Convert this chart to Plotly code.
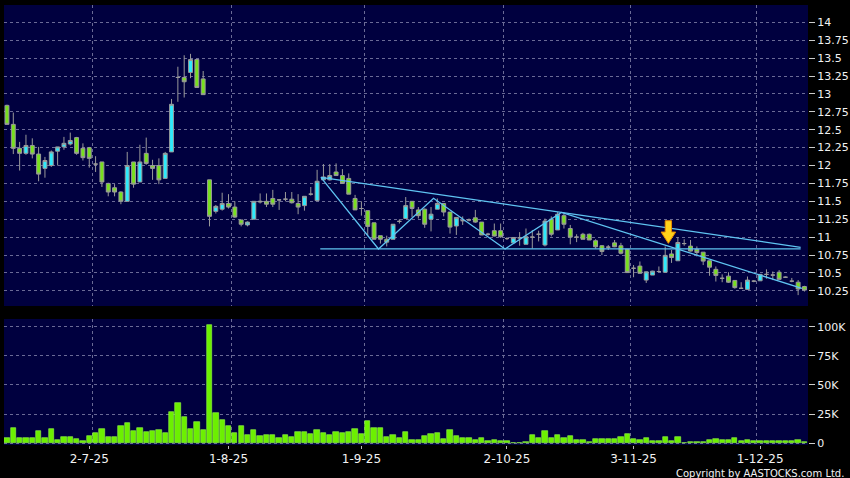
import plotly.graph_objects as go
from plotly.subplots import make_subplots

# ---------------- data ----------------
opens = [12.84, 12.575, 12.24, 12.17, 12.28, 12.16, 11.96, 12.00, 12.20, 12.26,
         12.30, 12.39, 12.24, 12.25, 12.02, 12.05, 11.75, 11.69, 11.63, 11.50,
         12.05, 11.77, 12.17, 12.00, 12.00, 11.82, 12.19, 13.23, 13.23, 13.30,
         13.48, 13.21, 11.80, 11.36, 11.39, 11.47, 11.42, 11.24, 11.17, 11.25,
         11.49, 11.50, 11.54, 11.52, 11.53, 11.53, 11.47, 11.44, 11.60, 11.51,
         11.80, 11.80, 11.91, 11.86, 11.82, 11.54, 11.40, 11.37, 11.20, 11.02,
         10.97, 10.97, 11.22, 11.26, 11.50, 11.38, 11.39, 11.25, 11.39, 11.47,
         11.35, 11.155, 11.23, 11.24, 11.27, 11.21, 11.04, 11.09, 11.09, 10.98,
         10.92, 10.99, 10.90, 11.00, 11.04, 10.89, 11.25, 11.10, 11.30, 11.12,
         11.00, 11.04, 11.04, 10.95, 10.88, 10.86, 10.92, 10.88, 10.83, 10.565,
         10.595, 10.40, 10.47, 10.52, 10.51, 10.765, 10.67, 10.91, 10.875, 10.83,
         10.79, 10.67, 10.55, 10.425, 10.455, 10.395, 10.285, 10.27, 10.385, 10.39,
         10.48, 10.47, 10.51, 10.44, 10.385, 10.37, 10.31]
highs = [12.85, 12.74, 12.33, 12.43, 12.38, 12.26, 12.12, 12.21, 12.26, 12.40,
         12.46, 12.40, 12.31, 12.26, 12.13, 12.05, 11.76, 11.74, 11.64, 12.19,
         12.05, 12.29, 12.39, 12.08, 12.10, 12.19, 12.93, 13.38, 13.54, 13.56,
         13.48, 13.32, 11.80, 11.45, 11.62, 11.60, 11.50, 11.24, 11.22, 11.50,
         11.61, 11.61, 11.66, 11.53, 11.63, 11.63, 11.60, 11.57, 11.70, 11.94,
         12.02, 12.02, 12.03, 11.95, 11.89, 11.59, 11.50, 11.37, 11.20, 11.02,
         11.02, 11.18, 11.25, 11.56, 11.50, 11.42, 11.40, 11.42, 11.54, 11.47,
         11.35, 11.28, 11.29, 11.26, 11.38, 11.21, 11.06, 11.19, 11.19, 11.00,
         11.00, 11.07, 11.12, 11.10, 11.09, 11.26, 11.29, 11.35, 11.33, 11.17,
         11.04, 11.06, 11.05, 10.97, 10.89, 10.89, 10.96, 10.92, 10.83, 10.61,
         10.66, 10.52, 10.53, 10.59, 10.87, 10.82, 11.00, 10.97, 10.96, 10.87,
         10.79, 10.67, 10.59, 10.48, 10.51, 10.40, 10.37, 10.45, 10.40, 10.48,
         10.55, 10.52, 10.54, 10.45, 10.43, 10.40, 10.32]
lows = [12.57, 12.16, 11.93, 12.15, 12.10, 11.78, 11.83, 11.98, 12.00, 12.22,
        12.28, 12.15, 12.07, 11.97, 11.91, 11.70, 11.57, 11.57, 11.46, 11.50,
        11.69, 11.77, 12.01, 11.80, 11.74, 11.82, 12.19, 12.89, 12.95, 13.22,
        13.09, 12.99, 11.15, 11.33, 11.37, 11.40, 11.27, 11.15, 11.15, 11.25,
        11.47, 11.42, 11.42, 11.38, 11.50, 11.47, 11.32, 11.37, 11.58, 11.51,
        11.80, 11.79, 11.86, 11.75, 11.60, 11.38, 11.30, 11.03, 10.97, 10.91,
        10.87, 10.97, 11.19, 11.26, 11.28, 11.26, 11.13, 11.08, 11.39, 11.29,
        11.05, 11.03, 11.17, 11.22, 11.20, 11.03, 11.02, 11.01, 10.99, 10.96,
        10.92, 10.88, 10.90, 10.84, 10.94, 10.87, 11.01, 11.10, 11.12, 10.90,
        10.93, 10.97, 10.96, 10.84, 10.75, 10.82, 10.86, 10.76, 10.50, 10.44,
        10.49, 10.36, 10.47, 10.51, 10.50, 10.64, 10.67, 10.88, 10.80, 10.73,
        10.61, 10.46, 10.38, 10.37, 10.36, 10.28, 10.28, 10.27, 10.37, 10.39,
        10.42, 10.40, 10.41, 10.43, 10.37, 10.19, 10.24]
closes = [12.575, 12.24, 12.17, 12.28, 12.16, 11.88, 12.07, 12.19, 12.26, 12.31,
          12.35, 12.17, 12.11, 12.10, 12.02, 11.77, 11.63, 11.63, 11.50, 12.00,
          11.74, 12.05, 12.03, 11.96, 11.80, 12.17, 12.855, 13.23, 13.17, 13.48,
          13.09, 12.99, 11.29, 11.43, 11.47, 11.42, 11.28, 11.18, 11.21, 11.50,
          11.50, 11.46, 11.46, 11.52, 11.53, 11.48, 11.42, 11.57, 11.60, 11.78,
          11.84, 11.86, 11.86, 11.75, 11.60, 11.38, 11.40, 11.15, 10.97, 10.97,
          10.93, 11.18, 11.22, 11.44, 11.40, 11.30, 11.18, 11.32, 11.47, 11.35,
          11.14, 11.275, 11.23, 11.24, 11.21, 11.03, 11.04, 11.015, 11.005, 10.98,
          10.995, 10.99, 11.005, 11.00, 11.04, 11.225, 11.04, 11.32, 11.18, 11.00,
          11.00, 10.97, 10.96, 10.865, 10.80, 10.86, 10.865, 10.775, 10.505, 10.565,
          10.495, 10.515, 10.525, 10.52, 10.745, 10.715, 10.925, 10.91, 10.805, 10.785,
          10.665, 10.58, 10.465, 10.425, 10.37, 10.295, 10.285, 10.40, 10.385, 10.48,
          10.48, 10.47, 10.41, 10.44, 10.385, 10.275, 10.26]
volumes_k = [4.9, 12.9, 4.6, 4.6, 4.6, 10.3, 4.9, 12.1, 2.9, 5.5,
             5.5, 3.7, 2.3, 6.0, 9.2, 12.1, 5.2, 5.2, 15.2, 17.5,
             10.6, 13.2, 9.8, 10.9, 11.2, 8.6, 27.0, 34.2, 22.4, 12.6,
             18.4, 11.8, 101.7, 25.6, 20.1, 14.9, 8.6, 15.2, 7.5, 11.2,
             6.3, 6.9, 6.9, 4.9, 7.2, 5.7, 9.5, 10.1, 8.3, 11.2,
             8.9, 7.5, 9.5, 9.2, 9.8, 12.1, 8.3, 19.3, 13.5, 13.2,
             5.2, 7.2, 4.6, 10.1, 2.9, 2.9, 6.3, 7.8, 9.2, 3.7,
             11.2, 6.3, 4.6, 4.9, 2.9, 4.6, 2.0, 2.9, 2.3, 2.3,
             0.3, 0.3, 1.4, 6.9, 4.6, 10.3, 4.6, 6.9, 4.9, 6.6,
             2.9, 2.9, 0.9, 3.7, 4.0, 3.4, 3.4, 5.5, 8.3, 3.7,
             3.2, 4.3, 2.3, 2.0, 5.7, 2.3, 5.5, 0.6, 0.9, 0.9,
             0.9, 2.9, 4.0, 3.2, 3.2, 4.9, 2.0, 2.6, 2.0, 1.7,
             1.7, 2.3, 2.0, 1.7, 2.3, 2.9, 1.1]

date_labels = ["2-7-25", "1-8-25", "1-9-25", "2-10-25", "3-11-25", "1-12-25"]
date_index = [13, 35, 56, 79, 99, 119]
grid_index = [13.5, 35.5, 56.5, 78.5, 98.5, 118.5]

price_ticks = [10.25, 10.5, 10.75, 11, 11.25, 11.5, 11.75, 12, 12.25, 12.5,
               12.75, 13, 13.25, 13.5, 13.75, 14]
price_tick_labels = ["10.25", "10.5", "10.75", "11", "11.25", "11.5", "11.75", "12",
                     "12.25", "12.5", "12.75", "13", "13.25", "13.5", "13.75", "14"]
vol_ticks = [0, 25000, 50000, 75000, 100000]
vol_tick_labels = ["0", "25K", "50K", "75K", "100K"]

# drawn trend lines (index, price)
zigzag_x = [49.6, 58.7, 67.4, 78.7, 87.6, 125.6]
zigzag_y = [11.835, 10.835, 11.542, 10.835, 11.346, 10.285]
upper_x = [49.6, 125.4]
upper_y = [11.835, 10.858]
support_x = [49.5, 125.4]
support_y = [10.835, 10.835]

# signal arrow
arrow_index = 104.5
arrow_top = 11.229
arrow_neck = 11.071
arrow_tip = 10.913

# ---------------- styling ----------------
BG = "#000000"
PANEL = "#00003f"
UP = "#2eeafc"
DOWN = "#78e01e"
EDGE = "#9a9a9a"
VOL = "#6cf000"
VOL_EDGE = "#97ff4a"
GRID = "#6a6a96"
LINE = "#5fc4f2"
TXT = "#f2f2f2"
FONT = "DejaVu Sans"

idx = list(range(len(opens)))
volumes = [v * 1000 for v in volumes_k]

fig = make_subplots(rows=2, cols=1, shared_xaxes=True)

fig.add_trace(go.Candlestick(
    x=idx, open=opens, high=highs, low=lows, close=closes,
    increasing=dict(fillcolor=UP, line=dict(color=EDGE, width=1)),
    decreasing=dict(fillcolor=DOWN, line=dict(color=EDGE, width=1)),
    whiskerwidth=0, showlegend=False, hoverinfo="skip"), row=1, col=1)

for xs, ys in [(support_x, support_y), (upper_x, upper_y), (zigzag_x, zigzag_y)]:
    fig.add_trace(go.Scatter(x=xs, y=ys, mode="lines",
                             line=dict(color=LINE, width=1.3),
                             showlegend=False, hoverinfo="skip"), row=1, col=1)

fig.add_trace(go.Bar(
    x=idx, y=volumes, width=0.84,
    marker=dict(color=VOL, line=dict(color=VOL_EDGE, width=0.6)),
    showlegend=False, hoverinfo="skip"), row=2, col=1)

# arrow shape
hw_s, hw_h = 0.5, 1.15
ax = arrow_index
path = (f"M {ax-hw_s},{arrow_top} L {ax+hw_s},{arrow_top} L {ax+hw_s},{arrow_neck} "
        f"L {ax+hw_h},{arrow_neck} L {ax},{arrow_tip} L {ax-hw_h},{arrow_neck} "
        f"L {ax-hw_s},{arrow_neck} Z")
fig.add_shape(type="path", path=path, xref="x", yref="y",
              fillcolor="#ffd21a", line=dict(color="#e88a00", width=1))

x_range = [-0.47, 126.56]
minor_grid = dict(tickmode="array", tickvals=grid_index, showgrid=True,
                  gridcolor=GRID, griddash="3px,3px", gridwidth=1, ticks="")

fig.update_layout(
    width=850, height=478,
    margin=dict(l=4, r=42, t=5, b=33, autoexpand=False),
    paper_bgcolor=BG, plot_bgcolor=PANEL,
    font=dict(family=FONT, color=TXT, size=11),
    boxgap=0.12,
    showlegend=False,
    bargap=0,
)

fig.update_xaxes(range=x_range, showgrid=False, zeroline=False, showline=False,
                 minor=minor_grid, rangeslider=dict(visible=False))
fig.update_xaxes(showticklabels=False, ticks="", row=1, col=1)
fig.update_xaxes(tickmode="array", tickvals=date_index, ticktext=date_labels,
                 ticks="outside", ticklen=3, tickcolor="#bbbbbb",
                 ticklabelstandoff=0,
                 tickfont=dict(size=12, color=TXT, family=FONT), row=2, col=1)

fig.update_yaxes(side="right", zeroline=False, showline=False,
                 showgrid=True, gridcolor=GRID, griddash="3px,3px", gridwidth=1,
                 ticks="outside", ticklen=6, tickcolor="#cccccc",
                 tickfont=dict(size=11, color=TXT, family=FONT))
fig.update_yaxes(range=[10.038, 14.242], domain=[0.3159, 1.0], tickmode="array",
                 tickvals=price_ticks, ticktext=price_tick_labels, row=1, col=1)
fig.update_yaxes(range=[-1460, 106600], domain=[0.0, 0.2864], tickmode="array",
                 tickvals=vol_ticks, ticktext=vol_tick_labels, row=2, col=1)

fig.add_annotation(text="Copyright by AASTOCKS.com Ltd.", xref="paper", yref="paper",
                   x=1.047, y=-0.064, xanchor="right", yanchor="middle",
                   showarrow=False, font=dict(size=10, color=TXT, family=FONT))

fig.write_html("out.html", config={"displayModeBar": False},
               post_script="document.body.style.margin='0';document.body.style.padding='0';")
